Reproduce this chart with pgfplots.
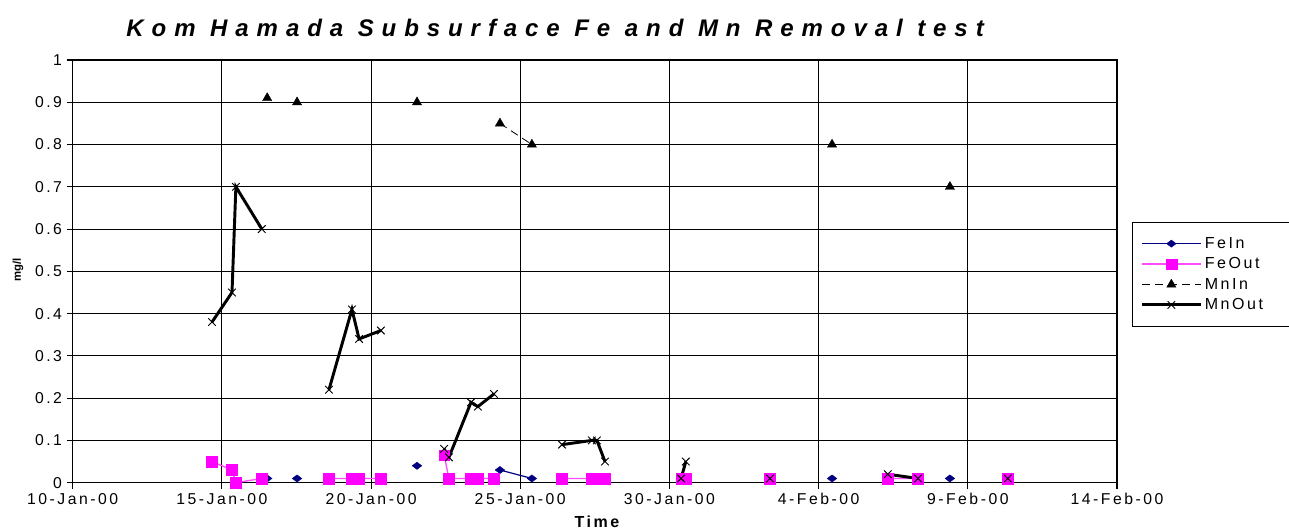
\documentclass[border=0pt]{standalone}
\usepackage{fontspec}
\setmainfont{Liberation Sans}
\newfontfamily\tickfont[LetterSpace=16]{Liberation Sans}
\newfontfamily\titlefont[LetterSpace=33]{Liberation Sans}
\usepackage{pgfplots}
\pgfplotsset{compat=1.18}
\definecolor{navyblue}{RGB}{0,0,128}
\definecolor{fuchsia}{RGB}{255,0,255}
\begin{document}
\begin{tikzpicture}
\useasboundingbox (-54.5pt,-35.5pt) rectangle (912.2pt,362pt);
\begin{axis}[
  at={(0,0)}, anchor=south west,
  scale only axis, width=783.2pt, height=317pt,
  xmin=0, xmax=35, ymin=0, ymax=1,
  xtick={0,5,10,15,20,25,30,35},
  xticklabels={10-Jan-00,15-Jan-00,20-Jan-00,25-Jan-00,30-Jan-00,4-Feb-00,9-Feb-00,14-Feb-00},
  ytick={0,0.1,0.2,0.3,0.4,0.5,0.6,0.7,0.8,0.9,1},
  yticklabels={0,0.1,0.2,0.3,0.4,0.5,0.6,0.7,0.8,0.9,1},
  tick pos=left, tick align=outside, major tick length=4.5pt,
  tick style={black, line width=0.8pt},
  grid=major, grid style={black, line width=0.7pt},
  axis line style={black, line width=0.9pt},
  ticklabel style={font=\tickfont\fontsize{11.8}{13}\selectfont},
  title={Kom Hamada Subsurface Fe and Mn Removal test},
  title style={at={(0.462,1.058)}, anchor=center, font=\titlefont\bfseries\itshape\fontsize{18}{21}\selectfont},
  xlabel={Time},
  xlabel style={at={(0.502,-0.093)}, anchor=center, font=\tickfont\bfseries\fontsize{12}{14}\selectfont},
  ylabel={mg/l},
  ylabel style={at={(-0.0524,0.503)}, anchor=center, rotate=0, font=\bfseries\fontsize{8.5}{10}\selectfont},
  unbounded coords=jump,
  legend style={at={(1.0144,0.6168)}, anchor=north west, draw=black, line width=0.8pt,
    font=\tickfont\fontsize{12}{13}\selectfont, inner xsep=6pt, inner ysep=9pt,
    row sep=1.5pt, fill=white, cells={anchor=west}},
  legend image code/.code={\draw[mark repeat=2,mark phase=2,#1] plot coordinates {(0pt,0pt) (22pt,0pt) (44pt,0pt)};},
]
% FeIn
\addplot[navyblue, line width=0.9pt, mark=diamond*, mark size=3.6pt, mark options={rotate=90, solid, line width=0.3pt}] table {
x y
6.52 0.01
nan nan
7.52 0.01
nan nan
11.54 0.04
nan nan
14.32 0.03
15.39 0.01
nan nan
25.45 0.01
nan nan
29.40 0.01
};
\addlegendentry{\makebox[3cm][l]{FeIn}}
% FeOut
\addplot[fuchsia!70, line width=1pt, mark=square*, mark size=4pt, mark options={fuchsia, solid, line width=0.3pt}] table {
x y
4.67 0.05
5.34 0.03
5.47 0.00
6.34 0.01
nan nan
8.59 0.01
9.36 0.01
9.60 0.01
10.33 0.01
nan nan
12.45 0.065
12.61 0.01
13.35 0.01
13.58 0.01
14.12 0.01
nan nan
16.40 0.01
17.40 0.01
17.57 0.01
17.84 0.01
nan nan
20.39 0.01
20.55 0.01
nan nan
23.37 0.01
nan nan
27.32 0.01
28.33 0.01
nan nan
31.34 0.01
};
\addlegendentry{\makebox[3cm][l]{FeOut}}
% MnIn
\addplot[black, line width=0.6pt, dash pattern=on 6pt off 4pt, mark=triangle*, mark size=4pt, mark options={solid, line width=0.3pt}] table {
x y
6.52 0.91
nan nan
7.52 0.90
nan nan
11.54 0.90
nan nan
14.32 0.85
15.39 0.80
nan nan
25.45 0.80
nan nan
29.40 0.70
};
\addlegendentry{\makebox[3cm][l]{MnIn}}
% MnOut
\addplot[black, line width=2.2pt, mark=x, mark size=4pt, mark options={solid, line width=0.7pt}] table {
x y
4.67 0.38
5.34 0.45
5.47 0.70
6.34 0.60
nan nan
8.59 0.22
9.36 0.41
9.60 0.34
10.33 0.36
nan nan
12.45 0.08
12.61 0.06
13.35 0.19
13.58 0.18
14.12 0.21
nan nan
16.40 0.09
17.40 0.10
17.57 0.10
17.84 0.05
nan nan
20.39 0.01
20.55 0.05
nan nan
23.37 0.01
nan nan
27.32 0.02
28.33 0.01
nan nan
31.34 0.01
};
\addlegendentry{\makebox[3cm][l]{MnOut}}
\end{axis}
\end{tikzpicture}
\end{document}
